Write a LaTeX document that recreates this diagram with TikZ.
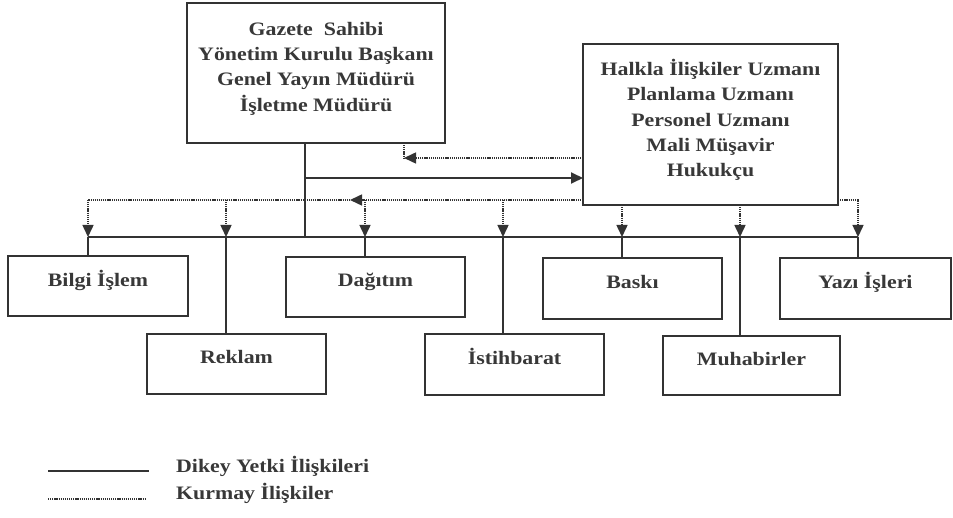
\documentclass[tikz,border=0pt]{standalone}
\usepackage{fontspec}
\setmainfont{Liberation Serif}[FakeStretch=1.15]
\usetikzlibrary{arrows.meta,calc}

\definecolor{ink}{HTML}{333333}
\definecolor{txt}{HTML}{383838}

\tikzset{
  unitbox/.style={draw=ink, line width=2pt, rectangle, inner sep=0pt,
    font=\bfseries\fontsize{19}{25.3}\selectfont, text=txt, align=center},
  onerow/.style={unitbox, text height=7pt, text depth=7pt},
  authority/.style={draw=ink, line width=1.8pt},
  staffline/.style={draw=ink, line width=1.5pt, dash pattern=on 1.2pt off 0.9pt},
  tipdown/.style={-{Triangle[width=11pt,length=12pt]}},
  legendtext/.style={anchor=base west, inner sep=0pt, text=txt,
    font=\bfseries\fontsize{19}{24}\selectfont}
}

\begin{document}
\begin{tikzpicture}[x=1pt, y=-1pt]
\useasboundingbox (0,0) rectangle (953,518);
\fill[white] (0,0) rectangle (953,518);

% management and staff boxes
\draw[draw=ink, line width=2pt] (187,3) rectangle (445,143);
\node[unitbox, draw=none] (owner) at (316,68.5)
  {Gazete~ Sahibi\\Yönetim Kurulu Başkanı\\Genel Yayın Müdürü\\İşletme Müdürü};
\draw[draw=ink, line width=2pt] (583,44) rectangle (838,205);
\node[unitbox, draw=none] (staff) at (710.5,120)
  {Halkla İlişkiler Uzmanı\\Planlama Uzmanı\\Personel Uzmanı\\Mali Müşavir\\Hukukçu};
\coordinate (ownerS) at (316,143);
\coordinate (staffW) at (583,124.5);
\coordinate (staffE) at (838,124.5);
\coordinate (staffS) at (710.5,205);

% departments, upper row
\node[onerow, minimum width=180pt, minimum height=60pt] (bilgi) at (98,286.5) {Bilgi İşlem};
\node[onerow, minimum width=179pt, minimum height=60pt] (dagitim) at (375.5,287) {Dağıtım};
\node[onerow, minimum width=179pt, minimum height=61pt] (baski) at (632.5,288.5) {Baskı};
\node[onerow, minimum width=171pt, minimum height=61pt] (yazi) at (865.5,288.5) {Yazı İşleri};

% departments, lower row
\node[onerow, minimum width=179pt, minimum height=60pt] (reklam) at (236.5,364) {Reklam};
\node[onerow, minimum width=179pt, minimum height=61pt] (istihbarat) at (514.5,364.5) {İstihbarat};
\node[onerow, minimum width=177pt, minimum height=59pt] (muhabir) at (751.5,365.5) {Muhabirler};

% bus points
\coordinate (trunk) at (305,237);
\coordinate (b1) at (88,237);
\coordinate (b2) at (226,237);
\coordinate (b3) at (365,237);
\coordinate (b4) at (503,237);
\coordinate (b5) at (622,237);
\coordinate (b6) at (740,237);
\coordinate (b7) at (858,237);

% vertical authority lines
\draw[authority] (ownerS -| trunk) -- (trunk);
\draw[authority] (b1) -- (b7);
\draw[authority] (b1) -- (bilgi.north -| b1);
\draw[authority] (b3) -- (dagitim.north -| b3);
\draw[authority] (b5) -- (baski.north -| b5);
\draw[authority] (b7) -- (yazi.north -| b7);
\draw[authority] (b2) -- (reklam.north -| b2);
\draw[authority] (b4) -- (istihbarat.north -| b4);
\draw[authority] (b6) -- (muhabir.north -| b6);
\draw[authority, -{Triangle[width=11pt,length=12pt]}] (305,178) -- (staffW |- 0,178);

% staff relations
\coordinate (s1) at (88,200);
\coordinate (s2) at (226,200);
\coordinate (s3) at (365,200);
\coordinate (s4) at (503,200);
\coordinate (sl) at (350,200);
\coordinate (sr) at (858,200);
\coordinate (up) at (404,158);

\draw[staffline, -{Triangle[width=11pt,length=12pt]}] (staffW |- s1) -- (sl);
\draw[staffline] (sl) -- (s1);
\draw[staffline, tipdown] (s1) -- (b1);
\draw[staffline, tipdown] (s2) -- (b2);
\draw[staffline, tipdown] (s3) -- (b3);
\draw[staffline, tipdown] (s4) -- (b4);
\draw[staffline, tipdown] (staffS -| b5) -- (b5);
\draw[staffline, tipdown] (staffS -| b6) -- (b6);
\draw[staffline, tipdown] (staffE |- sr) -- (sr) -- (b7);
\draw[staffline, -{Triangle[width=11pt,length=12pt]}] (staffW |- up) -- (up);
\draw[staffline] (ownerS -| up) -- (up);

% legend
\coordinate (l1a) at (48,471);
\coordinate (l1b) at (149,471);
\coordinate (l2a) at (48,499);
\coordinate (l2b) at (145,499);
\draw[authority] (l1a) -- (l1b);
\draw[staffline] (l2a) -- (l2b);
\node[legendtext] (leg1) at (176,472) {Dikey Yetki İlişkileri};
\node[legendtext] (leg2) at (176,499) {Kurmay İlişkiler};
\end{tikzpicture}
\end{document}
